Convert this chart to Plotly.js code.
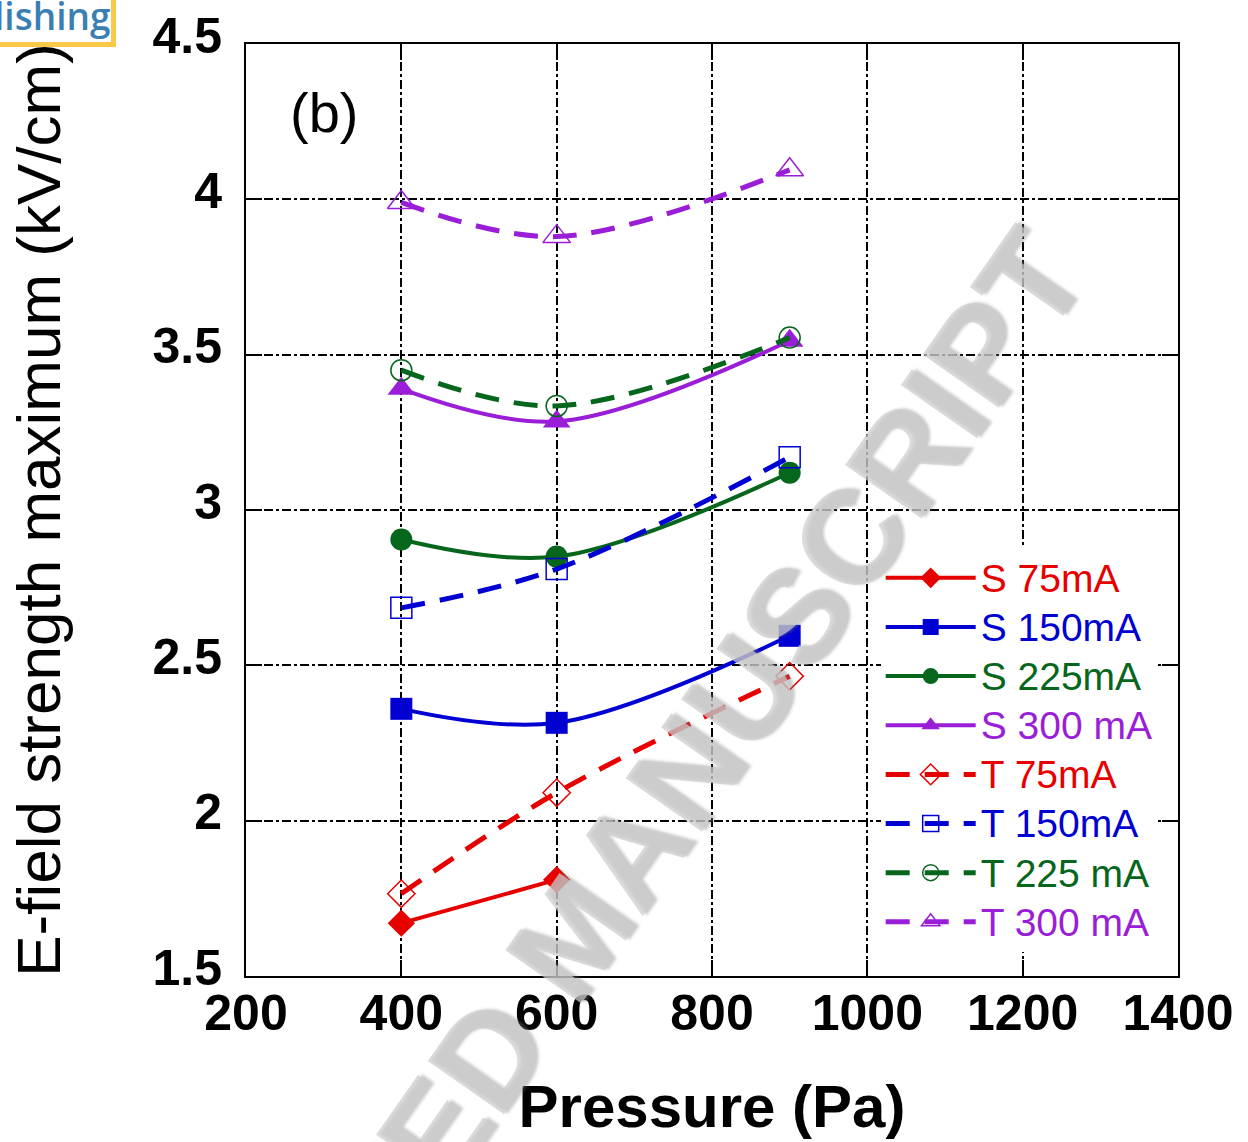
<!DOCTYPE html>
<html>
<head>
<meta charset="utf-8">
<script src="https://cdn.plot.ly/plotly-3.0.1.min.js"></script>
<style>html,body{margin:0;padding:0;background:#fff;}#chart{width:1248px;height:1142px;}</style>
</head>
<body>
<div id="chart"></div>
<script>
// ---- data ----
const pressure = [400, 600, 900];
const pressureS75 = [400, 600];
const s75  = [1.67, 1.81];
const s150 = [2.36, 2.315, 2.595];
const s225 = [2.905, 2.85, 3.12];
const s300 = [3.39, 3.285, 3.545];
const t75  = [1.765, 2.09, 2.465];
const t150 = [2.685, 2.81, 3.17];
const t225 = [3.45, 3.335, 3.555];
const t300 = [3.99, 3.88, 4.095];
const seriesNames = ['S 75mA','S 150mA','S 225mA','S 300 mA','T 75mA','T 150mA','T 225 mA','T 300 mA'];
const xTicks = [200, 400, 600, 800, 1000, 1200, 1400];
const yTicks = [1.5, 2, 2.5, 3, 3.5, 4, 4.5];

const RED = '#e60000', BLUE = '#0000d2', GREEN = '#05661c', PURPLE = '#9a1ed8';
const colors = [RED, BLUE, GREEN, PURPLE, RED, BLUE, GREEN, PURPLE];

function nm(i){ return '<span style="color:' + colors[i] + ';font-size:39px">' + seriesNames[i] + '</span>'; }

function solid(x, y, i, symbol, size){
  return {x: x, y: y, name: nm(i), type: 'scatter', mode: 'lines+markers',
    line: {color: colors[i], width: 4, shape: 'spline', smoothing: 1},
    marker: {symbol: symbol, size: size, color: colors[i]}};
}
function dashed(x, y, i, symbol, size){
  return {x: x, y: y, name: nm(i), type: 'scatter', mode: 'lines+markers',
    line: {color: colors[i], width: 5, dash: '24px,15px', shape: 'spline', smoothing: 1},
    marker: {symbol: symbol, size: size, color: colors[i], line: {color: colors[i], width: 1.5}}};
}

const traces = [
  solid(pressureS75, s75, 0, 'diamond', 21),
  solid(pressure, s150, 1, 'square', 22),
  solid(pressure, s225, 2, 'circle', 22),
  solid(pressure, s300, 3, 'triangle-up', 24),
  dashed(pressure, t75, 4, 'diamond-open', 21),
  dashed(pressure, t150, 5, 'square-open', 21),
  dashed(pressure, t225, 6, 'circle-open', 21),
  dashed(pressure, t300, 7, 'triangle-up-open', 24)
];

const tickFont = {family: 'Arial, "Liberation Sans", sans-serif', size: 50, color: '#000', weight: 'bold'};

const layout = {
  width: 1248, height: 1142,
  margin: {l: 246, r: 70, t: 44, b: 166},
  paper_bgcolor: '#fff', plot_bgcolor: '#fff',
  showlegend: true,
  xaxis: {
    range: [200, 1400], tickvals: xTicks, ticks: 'inside', ticklen: 16, tickwidth: 2, tickcolor: '#000',
    showline: true, linecolor: '#000', linewidth: 2, mirror: 'ticks',
    showgrid: true, gridcolor: '#000', gridwidth: 2, griddash: 'dashdot',
    zeroline: false, tickfont: tickFont, ticklabelstandoff: -8,
    title: {text: 'Pressure (Pa)', standoff: 45, font: {family: 'Arial, "Liberation Sans", sans-serif', size: 60, color: '#000', weight: 'bold'}}
  },
  yaxis: {
    range: [1.5, 4.5], tickvals: yTicks, ticks: 'inside', ticklen: 16, tickwidth: 2, tickcolor: '#000',
    showline: true, linecolor: '#000', linewidth: 2, mirror: 'ticks',
    showgrid: true, gridcolor: '#000', gridwidth: 2, griddash: 'dashdot',
    zeroline: false, tickfont: tickFont, ticklabelstandoff: 12, ticklabelshift: -9,
    title: {text: 'E-field strength maximum (kV/cm)', standoff: 72, font: {family: 'Arial, "Liberation Sans", sans-serif', size: 62, color: '#000'}}
  },
  legend: {
    x: 0.681, y: 0.459, xanchor: 'left', yanchor: 'top',
    bgcolor: '#fff', borderwidth: 0, itemwidth: 90, tracegroupgap: 0,
    font: {family: 'Arial, "Liberation Sans", sans-serif', size: 35.5, color: '#000'}
  },
  annotations: [
    {text: '(b)', xref: 'paper', yref: 'paper', x: (324 - 246) / 932, y: (976 - 112) / 932,
     showarrow: false, xanchor: 'center', yanchor: 'middle',
     font: {family: 'Arial, "Liberation Sans", sans-serif', size: 56, color: '#000'}},
    {text: 'ACCEPTED MANUSCRIPT', xref: 'paper', yref: 'paper', x: (572 - 246) / 932, y: (976 - 935) / 932,
     showarrow: false, xanchor: 'center', yanchor: 'middle', textangle: -55,
     font: {family: 'Arial, "Liberation Sans", sans-serif', size: 135, color: 'rgba(205,205,205,0.72)', weight: 'bold',
            shadow: '3px 3px 3px rgba(120,120,120,0.55)'}},
    {text: 'lishing', xref: 'paper', yref: 'paper', x: (116 - 246) / 932, y: (976 - 47) / 932,
     showarrow: false, xanchor: 'right', yanchor: 'bottom', align: 'right',
     bgcolor: '#fff', bordercolor: '#fbc94a', borderwidth: 5, borderpad: 1,
     font: {family: '"Open Sans", "Noto Sans", sans-serif', size: 37, color: '#3a7fb4', weight: 600}}
  ]
};

Plotly.newPlot('chart', traces, layout, {displayModeBar: false, staticPlot: true});
</script>
</body>
</html>
